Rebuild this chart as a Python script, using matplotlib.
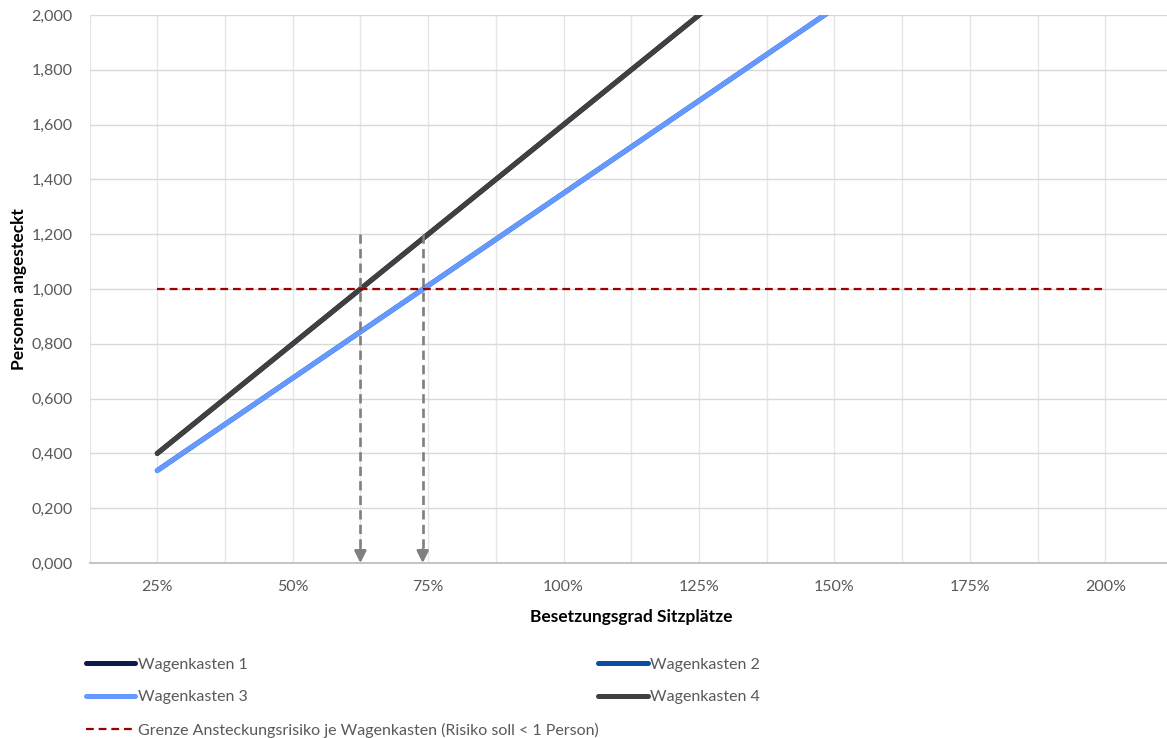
"""Ansteckungsrisiko je Wagenkasten ueber dem Besetzungsgrad"""

import matplotlib
matplotlib.use("Agg")
import matplotlib.pyplot as plt
from matplotlib.ticker import FixedLocator, FuncFormatter

# Besetzungsgrad der Sitzplaetze in Prozent
besetzung = [25, 50, 75, 100, 125, 150, 175, 200]

# Personen angesteckt je Wagenkasten
wagenkasten_1 = [0.400, 0.800, 1.200, 1.600, 2.000, 2.400, 2.800, 3.200]
wagenkasten_2 = [0.3375, 0.675, 1.0125, 1.350, 1.6875, 2.025, 2.3625, 2.700]
wagenkasten_3 = [0.3375, 0.675, 1.0125, 1.350, 1.6875, 2.025, 2.3625, 2.700]
wagenkasten_4 = [0.400, 0.800, 1.200, 1.600, 2.000, 2.400, 2.800, 3.200]
grenze = [1.0] * len(besetzung)

# Ablesepunkte (Schnitt mit der Grenze)
ablese_x = [62.5, 74.0]
ablese_top = 1.2

text_grey = "#595959"
plt.rcParams["font.family"] = ["Lato", "DejaVu Sans"]

fig = plt.figure(figsize=(11.67, 7.38), dpi=100)
ax = fig.add_axes([0.0767, 0.2371, 0.9285, 0.7425])

ax.plot(besetzung, wagenkasten_1, color="#0D1B4C", lw=3.6, solid_capstyle="round", label="Wagenkasten 1")
ax.plot(besetzung, wagenkasten_2, color="#0B4DA2", lw=3.6, solid_capstyle="round", label="Wagenkasten 2")
ax.plot(besetzung, wagenkasten_3, color="#6699FF", lw=3.6, solid_capstyle="round", label="Wagenkasten 3")
ax.plot(besetzung, wagenkasten_4, color="#404040", lw=3.6, solid_capstyle="round", label="Wagenkasten 4")
ax.plot(besetzung, grenze, color="#990000", lw=1.6, linestyle=(0, (3.5, 2.2)),
        label="Grenze Ansteckungsrisiko je Wagenkasten (Risiko soll < 1 Person)")

# gestrichelte Pfeile nach unten
for x in ablese_x:
    ax.plot([x, x], [ablese_top, 0.03], color="#7F7F7F", lw=1.9, linestyle=(0, (3.5, 2)))
    ax.annotate("", xy=(x, 0.0), xytext=(x, 0.05),
                arrowprops=dict(arrowstyle="-|>,head_length=0.7,head_width=0.35",
                                color="#7F7F7F", lw=1.9, shrinkA=0, shrinkB=0))

ax.set_xlim(12.5, 212.5)
ax.set_ylim(0, 2.0)

ax.xaxis.set_major_locator(FixedLocator(besetzung))
ax.xaxis.set_minor_locator(FixedLocator([12.5 + 12.5 * i for i in range(17)]))
ax.xaxis.set_major_formatter(FuncFormatter(lambda v, p: f"{v:.0f}%"))
ax.yaxis.set_major_locator(FixedLocator([i * 0.2 for i in range(11)]))
ax.yaxis.set_major_formatter(FuncFormatter(lambda v, p: f"{v:.3f}".replace(".", ",")))

ax.grid(True, which="both", axis="x", color="#E6E6E6", lw=1.0)
ax.grid(True, which="major", axis="y", color="#D9D9D9", lw=1.0)
ax.set_axisbelow(True)

ax.tick_params(axis="both", which="both", length=0, labelsize=11.5, labelcolor=text_grey)
ax.tick_params(axis="x", pad=12)
ax.tick_params(axis="y", pad=12)

for side in ["top", "right", "left"]:
    ax.spines[side].set_visible(False)
ax.spines["bottom"].set_color("#BFBFBF")
ax.spines["bottom"].set_linewidth(1.3)

ax.set_xlabel("Besetzungsgrad Sitzplätze", fontsize=12.5, fontweight="bold", color="black", labelpad=11)
ax.set_ylabel("Personen angesteckt", fontsize=12.5, fontweight="bold", color="black")
ax.yaxis.set_label_coords((27 - 89.5) / 1083.5, 0.5)

handles, labels = ax.get_legend_handles_labels()
order = [0, 2, 4, 1, 3]
leg = ax.legend([handles[i] for i in order], [labels[i] for i in order],
                ncol=2, loc="upper left", frameon=False, fontsize=11.5,
                handlelength=3.1, handletextpad=0.15, labelspacing=1.15,
                columnspacing=0.0, borderaxespad=0, borderpad=0)
leg.set_bbox_to_anchor((0.0735, 0.109), transform=fig.transFigure)
for t in leg.get_texts():
    t.set_color(text_grey)

fig.savefig("out.png", dpi=100)
